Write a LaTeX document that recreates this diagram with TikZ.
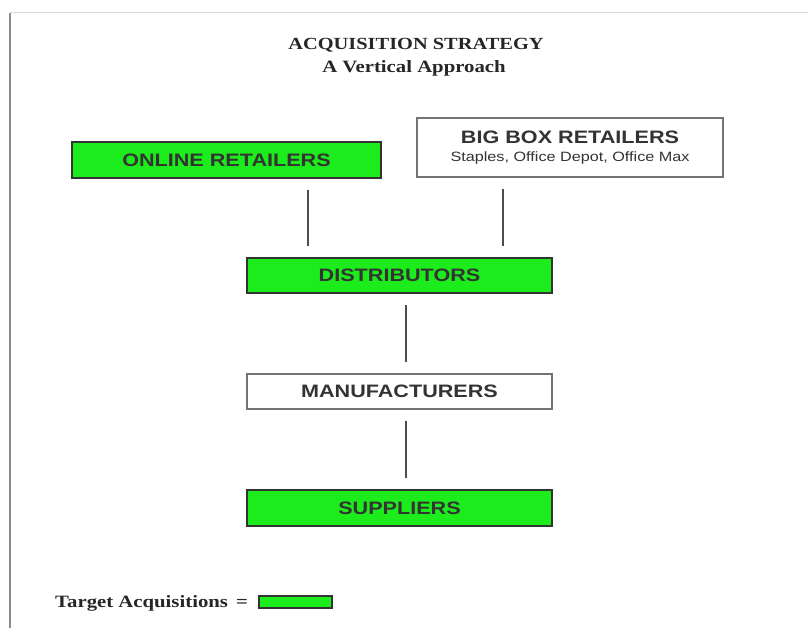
\documentclass[tikz,border=0pt]{standalone}
\usepackage{fontspec}
\setmainfont{Liberation Serif}[FakeStretch=1.2]
\setsansfont{Liberation Sans}[FakeStretch=1.2]
\definecolor{target}{RGB}{28,236,28}
\begin{document}
\begin{tikzpicture}[x=1pt,y=-1pt,
    level/.style={draw=black!80,line width=1.2pt,minimum height=35pt,minimum width=305pt,
      inner sep=0pt,font=\sffamily\bfseries\fontsize{18}{20}\selectfont,text=black!80},
    goal/.style={level,fill=target},
    other/.style={level,draw=black!55},
    link/.style={draw=black!70,line width=1.4pt,shorten <=11pt,shorten >=11pt}]
\useasboundingbox (0,0) rectangle (808,628);
\draw[black!45,line width=1.5pt] (10,628) -- (10,13);
\draw[black!15,line width=1pt] (10,13) -- (808,13);
\node[font=\bfseries\fontsize{17}{19}\selectfont,text=black!85] (title) at (416,45) {ACQUISITION STRATEGY};
\node[font=\bfseries\fontsize{17.3}{19}\selectfont,text=black!85] (subtitle) at (414,68) {A Vertical Approach};
\node[goal,minimum width=309pt,minimum height=36pt] (online) at (226.5,160) {ONLINE RETAILERS};
\node[other,minimum width=306pt,minimum height=59pt,align=center] (bigbox) at (570,147.5)
  {BIG BOX RETAILERS\\[-2pt]{\mdseries\fontsize{13.5}{15}\selectfont Staples, Office Depot, Office Max}};
\node[goal] (dist) at (399.5,275.5) {DISTRIBUTORS};
\node[other] (manuf) at (399.5,391.5) {MANUFACTURERS};
\node[goal,minimum height=36pt] (supp) at (399.5,508) {SUPPLIERS};
\draw[link] ([xshift=-91.5pt]dist.north |- online.south) -- ([xshift=-91.5pt]dist.north);
\draw[link] ([xshift=103.5pt]dist.north |- bigbox.south) -- ([xshift=103.5pt]dist.north);
\draw[link] ([xshift=6.5pt]dist.south) -- ([xshift=6.5pt]manuf.north);
\draw[link] ([xshift=6.5pt]manuf.south) -- ([xshift=6.5pt]supp.north);
\node[anchor=west,inner sep=0pt,font=\bfseries\fontsize{17.3}{19}\selectfont,text=black!85] (legend) at (55,603) {Target Acquisitions\, =};
\node[draw=black!80,line width=1.2pt,fill=target,minimum width=73pt,minimum height=12pt,inner sep=0pt] (key) at (295.5,602) {};
\end{tikzpicture}
\end{document}
